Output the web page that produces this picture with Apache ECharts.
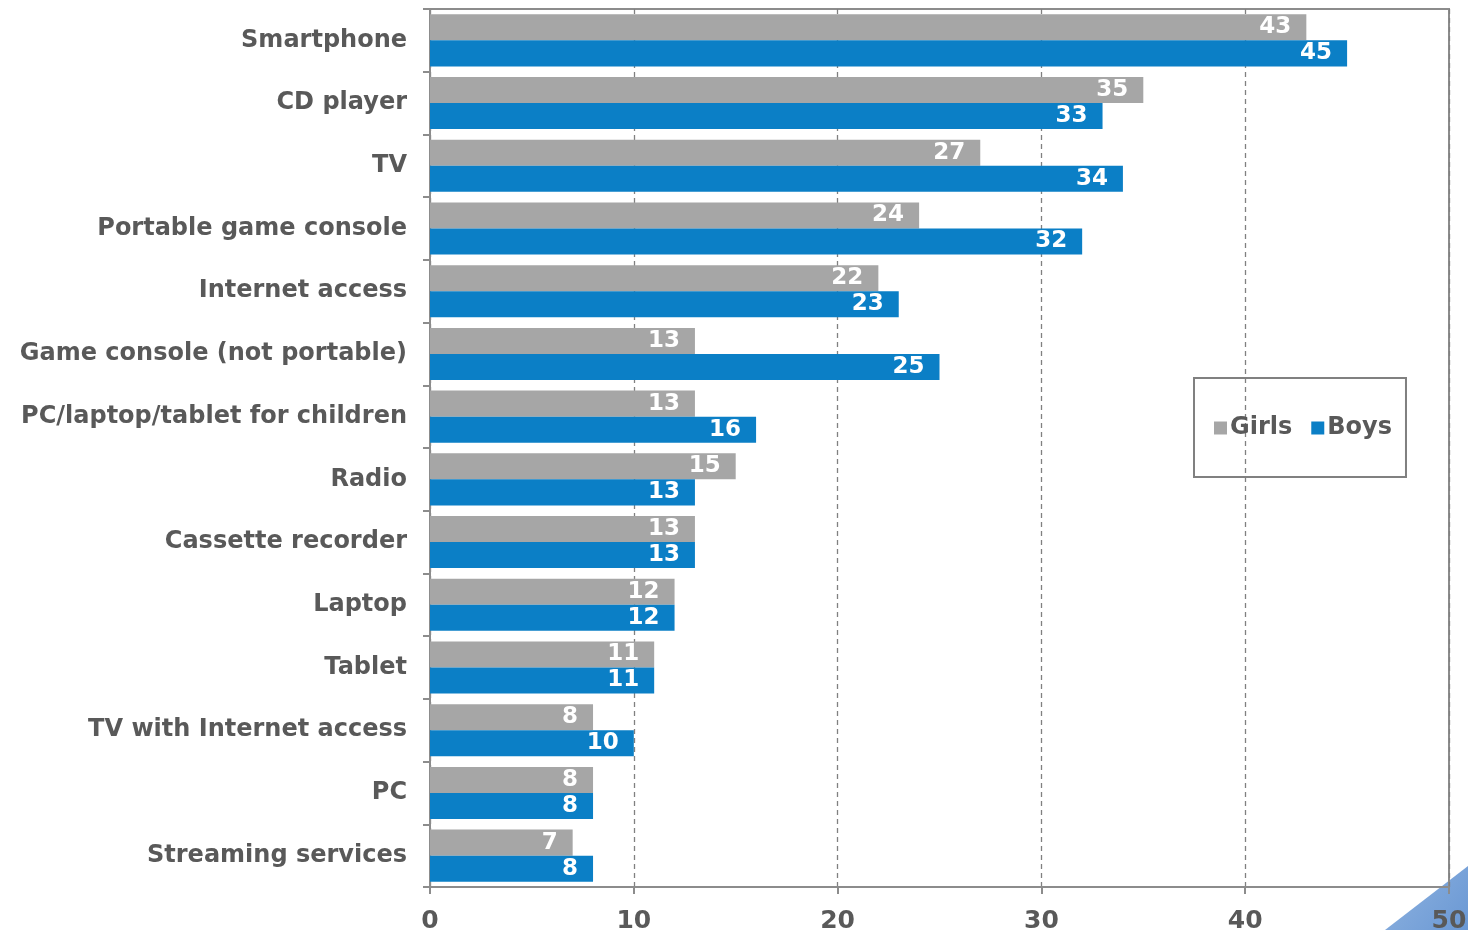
<!DOCTYPE html>
<html>
<head>
<meta charset="utf-8">
<script src="https://cdn.jsdelivr.net/npm/echarts@6/dist/echarts.min.js"></script>
<style>
  html, body { margin: 0; padding: 0; background: #ffffff; }
  #chart { width: 1468px; height: 930px; }
</style>
</head>
<body>
<div id="chart"></div>
<script>
// Devices owned, by gender
const categories = [
  'Smartphone', 'CD player', 'TV', 'Portable game console', 'Internet access',
  'Game console (not portable)', 'PC/laptop/tablet for children', 'Radio',
  'Cassette recorder', 'Laptop', 'Tablet', 'TV with Internet access', 'PC',
  'Streaming services'
];
const girls = [43, 35, 27, 24, 22, 13, 13, 15, 13, 12, 11, 8, 8, 7];
const boys  = [45, 33, 34, 32, 23, 25, 16, 13, 13, 12, 11, 10, 8, 8];
const xTicks = [0, 10, 20, 30, 40, 50];

const FONT = '"DejaVu Sans", Verdana, sans-serif';
const TEXT = '#595959';
const AXIS = '#8c8c8c';

const chart = echarts.init(document.getElementById('chart'), null, { renderer: 'canvas' });

const valueLabel = {
  show: true,
  position: 'insideRight',
  distance: 15,
  color: '#ffffff',
  fontFamily: FONT,
  fontWeight: 'bold',
  fontSize: 23,
  padding: [3, 0, 0, 0]
};

chart.setOption({
  animation: false,
  backgroundColor: '#ffffff',
  grid: { left: 430, right: 19, top: 9, bottom: 43, containLabel: false,
          outerBoundsMode: 'none',
          show: true, borderColor: AXIS, borderWidth: 2 },
  legend: {
    left: 1194, top: 378,
    orient: 'horizontal',
    padding: [38, 14, 37, 20],
    borderColor: '#808080', borderWidth: 2,
    itemWidth: 13, itemHeight: 13, itemGap: 19,
    icon: 'rect',
    textStyle: { fontFamily: FONT, fontWeight: 'bold', fontSize: 24, color: TEXT, padding: [0, 0, 0, -2] },
    data: ['Girls', 'Boys']
  },
  xAxis: {
    type: 'value',
    min: xTicks[0], max: xTicks[xTicks.length - 1], interval: 10,
    axisLine: { show: true, lineStyle: { color: AXIS, width: 2 } },
    axisTick: { show: true, length: 7, lineStyle: { color: AXIS, width: 2 } },
    axisLabel: { margin: 22, fontFamily: FONT, fontWeight: 'bold', fontSize: 25, color: TEXT },
    splitLine: { show: true, lineStyle: { color: '#808080', width: 1.3, type: [5, 4] } }
  },
  yAxis: {
    type: 'category',
    inverse: true,
    data: categories,
    axisLine: { show: true, lineStyle: { color: AXIS, width: 2 } },
    axisTick: { show: true, length: 7, lineStyle: { color: AXIS, width: 2 } },
    axisLabel: { margin: 23, fontFamily: FONT, fontWeight: 'bold', fontSize: 24, color: TEXT,
                 padding: [6, 0, 0, 0] }
  },
  series: [
    {
      name: 'Girls', type: 'bar', data: girls,
      itemStyle: { color: '#a6a6a6' },
      barGap: '0%', barCategoryGap: '17%',
      label: valueLabel
    },
    {
      name: 'Boys', type: 'bar', data: boys,
      itemStyle: { color: '#0b7fc6' },
      barGap: '0%', barCategoryGap: '17%',
      label: valueLabel
    }
  ],
  graphic: [{
    type: 'polygon',
    z: -1,
    shape: { points: [[1385, 930], [1468, 866], [1468, 930]] },
    style: {
      fill: new echarts.graphic.LinearGradient(0, 0, 1, 1, [
        { offset: 0, color: '#8fb3e0' },
        { offset: 1, color: '#6a98d4' }
      ])
    }
  }]
});
</script>
</body>
</html>
